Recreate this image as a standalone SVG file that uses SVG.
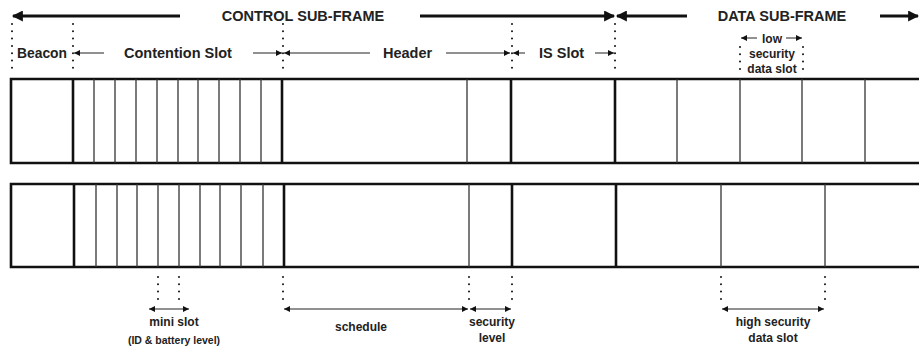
<svg xmlns="http://www.w3.org/2000/svg" width="919" height="349" viewBox="0 0 919 349">
<style>
text{font-family:"Liberation Sans",Arial,sans-serif;font-weight:bold;fill:#222}
.t1{font-size:14.5px}
.t2{font-size:14.5px}
.t3{font-size:12px}
.frame{stroke:#111;stroke-width:2.6;fill:none}
.thick{stroke:#111;stroke-width:2.6}
.thin{stroke:#333;stroke-width:1.3}
.dot{stroke:#111;stroke-width:2;stroke-linecap:round;stroke-dasharray:0 7.3;fill:none}
.big{stroke:#111;stroke-width:3;fill:none;marker-end:url(#bh)}
.sm{stroke:#222;stroke-width:1;fill:none}
</style>
<defs>
<marker id="bh" viewBox="0 0 10 10" refX="9" refY="5" markerWidth="16" markerHeight="11" markerUnits="userSpaceOnUse" orient="auto-start-reverse"><path d="M0,0 L10,5 L0,10 z" fill="#111"/></marker>
<marker id="sh" viewBox="0 0 10 10" refX="10" refY="5" markerWidth="9" markerHeight="6" markerUnits="userSpaceOnUse" orient="auto-start-reverse"><path d="M0,0 L10,5 L0,10 z" fill="#111"/></marker>
</defs>

<g id="top-labels">
<line class="big" x1="180" y1="16" x2="13" y2="16"/>
<text class="t1" x="303" y="21" text-anchor="middle">CONTROL SUB-FRAME</text>
<line class="big" x1="420" y1="16" x2="614" y2="16"/>
<line class="big" x1="687" y1="16" x2="617" y2="16"/>
<text class="t1" x="782" y="21" text-anchor="middle">DATA SUB-FRAME</text>
<line class="big" x1="880" y1="16" x2="918" y2="16"/>
</g>

<g id="connectors">
<line class="dot" x1="12" y1="24" x2="12" y2="72"/>
<line class="dot" x1="73" y1="24" x2="73" y2="72"/>
<line class="dot" x1="283" y1="24" x2="283" y2="72"/>
<line class="dot" x1="512" y1="24" x2="512" y2="72"/>
<line class="dot" x1="615" y1="24" x2="615" y2="72"/>
<line class="dot" x1="740" y1="47" x2="740" y2="72"/>
<line class="dot" x1="803" y1="47" x2="803" y2="72"/>
<line class="sm" x1="104" y1="53" x2="74" y2="53" marker-end="url(#sh)"/>
<line class="sm" x1="253" y1="53" x2="282" y2="53" marker-end="url(#sh)"/>
<line class="sm" x1="370" y1="53" x2="284" y2="53" marker-end="url(#sh)"/>
<line class="sm" x1="446" y1="53" x2="510" y2="53" marker-end="url(#sh)"/>
<line class="sm" x1="525" y1="53" x2="513" y2="53" marker-end="url(#sh)"/>
<line class="sm" x1="595" y1="53" x2="614" y2="53" marker-end="url(#sh)"/>
<line class="sm" x1="757" y1="38" x2="741" y2="38" marker-end="url(#sh)"/>
<line class="sm" x1="786" y1="38" x2="802" y2="38" marker-end="url(#sh)"/>
<line class="dot" x1="158" y1="277" x2="158" y2="303"/>
<line class="dot" x1="179" y1="277" x2="179" y2="303"/>
<line class="dot" x1="283" y1="277" x2="283" y2="303"/>
<line class="dot" x1="469" y1="277" x2="469" y2="303"/>
<line class="dot" x1="512" y1="277" x2="512" y2="303"/>
<line class="dot" x1="721" y1="277" x2="721" y2="303"/>
<line class="dot" x1="825" y1="277" x2="825" y2="303"/>
<line class="sm" x1="149" y1="309" x2="189" y2="309" marker-start="url(#sh)" marker-end="url(#sh)"/>
<line class="sm" x1="284" y1="309" x2="468" y2="309" marker-start="url(#sh)" marker-end="url(#sh)"/>
<line class="sm" x1="470" y1="309" x2="511" y2="309" marker-start="url(#sh)" marker-end="url(#sh)"/>
<line class="sm" x1="722" y1="309" x2="824" y2="309" marker-start="url(#sh)" marker-end="url(#sh)"/>
</g>

<g id="slot-labels">
<text class="t2" x="17" y="58" textLength="50" lengthAdjust="spacingAndGlyphs">Beacon</text>
<text class="t2" x="124" y="58">Contention Slot</text>
<text class="t2" x="383" y="58">Header</text>
<text class="t2" x="539" y="58">IS Slot</text>
<text class="t3" x="772" y="43" text-anchor="middle">low</text>
<text class="t3" x="772" y="58" text-anchor="middle">security</text>
<text class="t3" x="772" y="73" text-anchor="middle">data slot</text>
<text class="t3" x="174" y="326" text-anchor="middle">mini slot</text>
<text style="font-size:10.5px" x="174" y="344" text-anchor="middle">(ID &amp; battery level)</text>
<text class="t3" x="361" y="331" text-anchor="middle">schedule</text>
<text class="t3" x="492" y="326" text-anchor="middle">security</text>
<text class="t3" x="492" y="342" text-anchor="middle">level</text>
<text class="t3" x="773" y="326" text-anchor="middle">high security</text>
<text class="t3" x="773" y="342" text-anchor="middle">data slot</text>
</g>

<g id="frame-1">
<path class="frame" d="M919,79 H11 V163 H919"/>
<g class="thick"><line x1="73" y1="79" x2="73" y2="163"/><line x1="282" y1="79" x2="282" y2="163"/><line x1="511" y1="79" x2="511" y2="163"/><line x1="615" y1="79" x2="615" y2="163"/></g>
<g class="thin">
<line x1="94" y1="79" x2="94" y2="163"/><line x1="115" y1="79" x2="115" y2="163"/><line x1="136" y1="79" x2="136" y2="163"/><line x1="157" y1="79" x2="157" y2="163"/><line x1="178" y1="79" x2="178" y2="163"/><line x1="198" y1="79" x2="198" y2="163"/><line x1="219" y1="79" x2="219" y2="163"/><line x1="240" y1="79" x2="240" y2="163"/><line x1="261" y1="79" x2="261" y2="163"/>
<line x1="467" y1="79" x2="467" y2="163"/>
<line x1="677" y1="79" x2="677" y2="163"/><line x1="740" y1="79" x2="740" y2="163"/><line x1="802" y1="79" x2="802" y2="163"/><line x1="865" y1="79" x2="865" y2="163"/>
</g>
</g>

<g id="frame-2">
<path class="frame" d="M919,184 H11 V267 H919"/>
<g class="thick"><line x1="74" y1="184" x2="74" y2="267"/><line x1="284" y1="184" x2="284" y2="267"/><line x1="512" y1="184" x2="512" y2="267"/><line x1="616" y1="184" x2="616" y2="267"/></g>
<g class="thin">
<line x1="96" y1="184" x2="96" y2="267"/><line x1="117" y1="184" x2="117" y2="267"/><line x1="137" y1="184" x2="137" y2="267"/><line x1="158" y1="184" x2="158" y2="267"/><line x1="179" y1="184" x2="179" y2="267"/><line x1="200" y1="184" x2="200" y2="267"/><line x1="220" y1="184" x2="220" y2="267"/><line x1="241" y1="184" x2="241" y2="267"/><line x1="263" y1="184" x2="263" y2="267"/>
<line x1="469" y1="184" x2="469" y2="267"/>
<line x1="721" y1="184" x2="721" y2="267"/><line x1="825" y1="184" x2="825" y2="267"/>
</g>
</g>
</svg>
